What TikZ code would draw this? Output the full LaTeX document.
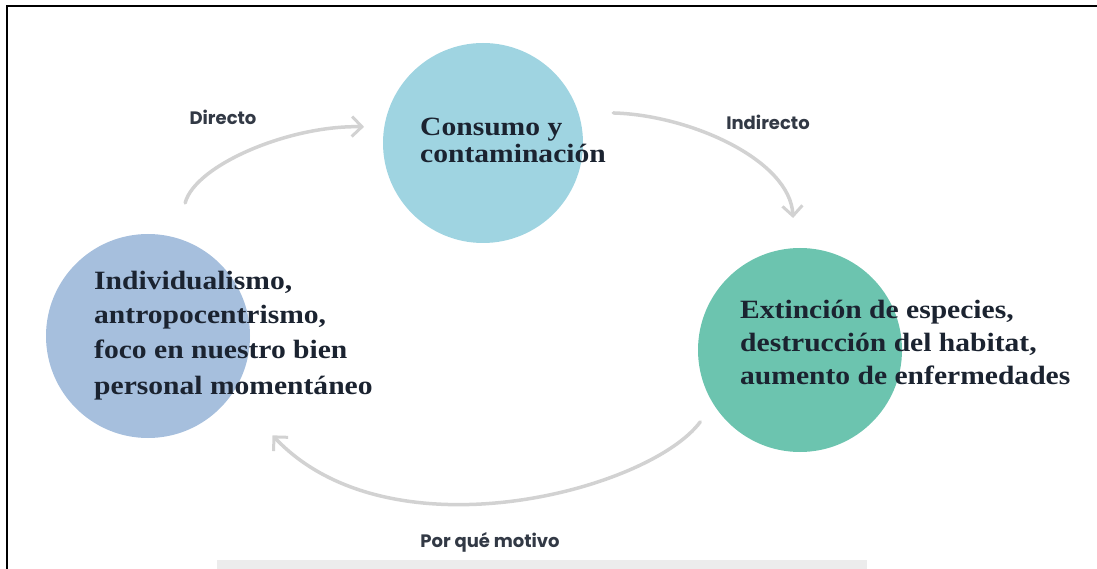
\documentclass[tikz,border=0pt]{standalone}
\usepackage{fontspec}
\setmainfont{Liberation Serif}
\newfontfamily\labfont{Poppins}
\newfontfamily\circfont[FakeStretch=1.12]{Liberation Serif}
\usetikzlibrary{arrows.meta}
\definecolor{cTop}{HTML}{9FD4E1}
\definecolor{cLeft}{HTML}{A6BFDD}
\definecolor{cRight}{HTML}{6CC4AF}
\definecolor{ink}{HTML}{1B2330}
\definecolor{arrg}{HTML}{D2D2D2}
\definecolor{band}{HTML}{ECECEC}
\tikzset{
  blob/.style={circle, inner sep=0pt, minimum size=#1},
  circtext/.style={anchor=base west, inner sep=0pt, text=ink,
    font={\circfont\bfseries\fontsize{26.4}{#1}\selectfont}},
  lab/.style={inner sep=0pt, text=ink!90, font={\labfont\bfseries\fontsize{18}{21}\selectfont}},
  arr/.style={draw=arrg, line width=3.5pt, line cap=round,
    -{Straight Barb[length=10pt,width=20pt,line width=3pt]}},
}
\begin{document}
\begin{tikzpicture}[x=1pt,y=-1pt]
\useasboundingbox (0,0) rectangle (1097,569);
\fill[band] (217,560) rectangle (867,569);
\draw[line width=2pt] (7,569) -- (7,6) -- (1097,6);

\node[blob=200pt, fill=cTop] (T) at (483,143) {};
\node[blob=204pt, fill=cLeft] (L) at (148,336) {};
\node[blob=204pt, fill=cRight] (R) at (800,350) {};

\node[circtext=26pt] (Ttext) at (420,136)
  {\begin{tabular}[t]{@{}l@{}}Consumo y\\contaminación\end{tabular}};
\node[circtext=35pt] (Ltext) at (94,289)
  {\begin{tabular}[t]{@{}l@{}}Individualismo,\\antropocentrismo,\\foco en nuestro bien\\personal momentáneo\end{tabular}};
\node[circtext=33pt] (Rtext) at (740,318)
  {\begin{tabular}[t]{@{}l@{}}Extinción de especies,\\destrucción del habitat,\\aumento de enfermedades\end{tabular}};

\node[lab] (ld) at (223,117) {Directo};
\node[lab] (li) at (768,122) {Indirecto};
\node[lab] (lp) at (490,542) {Por qué motivo};

\draw[arr, shorten <=36pt, shorten >=20pt] (L.74.5) .. controls (195,165) and (290,125) .. (T.171.5);
\draw[arr, shorten <=35pt, shorten >=30pt] (T.18) .. controls (690,115) and (790,160) .. (R.93);
\draw[arr, shorten <=22pt, shorten >=58pt] (R.212.5) .. controls (650,490) and (390,560) .. (L.326.6);
\end{tikzpicture}
\end{document}
